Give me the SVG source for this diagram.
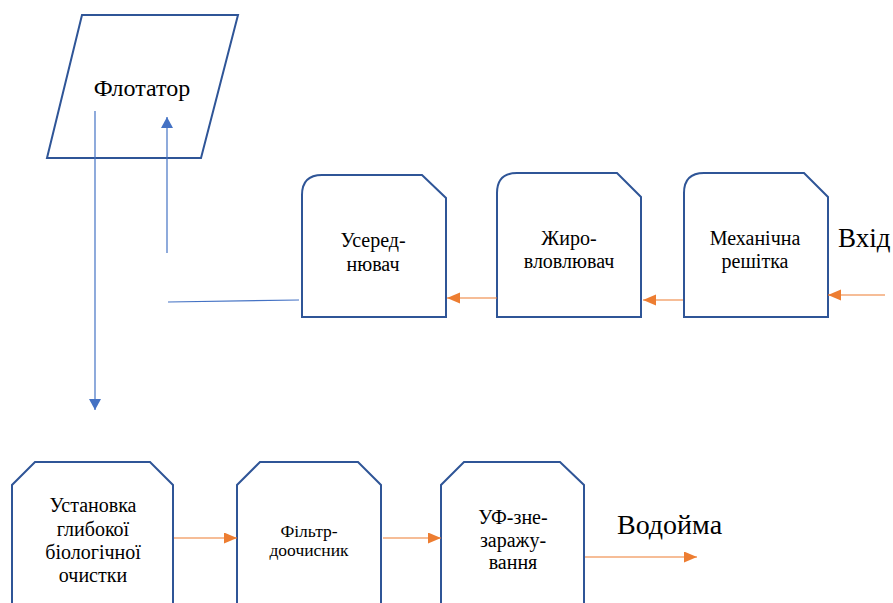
<svg xmlns="http://www.w3.org/2000/svg" width="893" height="603" viewBox="0 0 893 603">
<style>
.box{fill:#fff;stroke:#2F5597;stroke-width:2}
.t{font-family:"Liberation Serif","DejaVu Serif",serif;fill:#000;text-anchor:middle}
.s{font-size:20px}
.b{stroke:#4472C4;stroke-width:1.2;fill:none}
.o{stroke:#ED7D31;stroke-width:1.2;fill:none}
</style>
<defs>
<marker id="ab" markerWidth="12" markerHeight="12" refX="11" refY="6" orient="auto" markerUnits="userSpaceOnUse"><path d="M0,0 L11,6 L0,12 Z" fill="#4472C4"/></marker>
<marker id="ao" markerWidth="14" markerHeight="12" refX="13" refY="5.5" orient="auto" markerUnits="userSpaceOnUse"><path d="M0,0 L13,5.5 L0,11 Z" fill="#ED7D31"/></marker>
</defs>
<rect width="893" height="603" fill="#fff"/>
<g id="flotator">
<path class="box" d="M82,15 L238,15 L201,158 L47,158 Z"/>
<text class="t" x="142" y="96" font-size="24">Флотатор</text>
</g>
<g id="useredniuvach">
<path class="box" d="M302,317 L302,195 Q302,175 322,175 L422,175 L446,198 L446,317 Z"/>
<text class="t s" x="373" y="247">Усеред-</text>
<text class="t s" x="373" y="271">нювач</text>
</g>
<g id="zhyrovlovliuvach">
<path class="box" d="M497,317 L497,193 Q497,173 517,173 L617,173 L641,197 L641,317 Z"/>
<text class="t s" x="569" y="245">Жиро-</text>
<text class="t s" x="569" y="268">вловлювач</text>
</g>
<g id="reshitka">
<path class="box" d="M684,317 L684,193 Q684,173 704,173 L804,173 L828,197 L828,317 Z"/>
<text class="t s" x="755" y="245">Механічна</text>
<text class="t s" x="755" y="268">решітка</text>
</g>
<g id="ustanovka">
<path class="box" d="M12,610 L12,485 L35,462 L150,462 L173,485 L173,610"/>
<text class="t s" x="93" y="512">Установка</text>
<text class="t s" x="93" y="536">глибокої</text>
<text class="t s" x="93" y="559">біологічної</text>
<text class="t s" x="93" y="582">очистки</text>
</g>
<g id="filtr">
<path class="box" d="M237,610 L237,485 L260,462 L358,462 L381,485 L381,610"/>
<text class="t" x="309" y="537" font-size="17.5">Фільтр-</text>
<text class="t" x="309" y="556" font-size="17.5">доочисник</text>
</g>
<g id="uf">
<path class="box" d="M441,610 L441,485 L464,462 L560,462 L584,485 L584,610"/>
<text class="t s" x="513" y="524">УФ-зне-</text>
<text class="t s" x="513" y="547">заражу-</text>
<text class="t s" x="513" y="569">вання</text>
</g>
<g id="labels">
<text x="838" y="247" font-family="'Liberation Serif','DejaVu Serif',serif" font-size="27">Вхід</text>
<text x="617" y="534" font-family="'Liberation Serif','DejaVu Serif',serif" font-size="28">Водойма</text>
</g>
<g id="connectors">
<line class="b" x1="95" y1="111" x2="95" y2="410" marker-end="url(#ab)"/>
<line class="b" x1="167" y1="253" x2="167" y2="117" marker-end="url(#ab)"/>
<line class="b" x1="168" y1="302" x2="299" y2="300"/>
<line class="o" x1="885" y1="295" x2="828" y2="295" marker-end="url(#ao)"/>
<line class="o" x1="683" y1="300" x2="643" y2="300" marker-end="url(#ao)"/>
<line class="o" x1="497" y1="298" x2="447" y2="298" marker-end="url(#ao)"/>
<line class="o" x1="174" y1="538" x2="237" y2="538" marker-end="url(#ao)"/>
<line class="o" x1="383" y1="538" x2="441" y2="538" marker-end="url(#ao)"/>
<line class="o" x1="585" y1="557" x2="697" y2="557" marker-end="url(#ao)"/>
</g>
</svg>
